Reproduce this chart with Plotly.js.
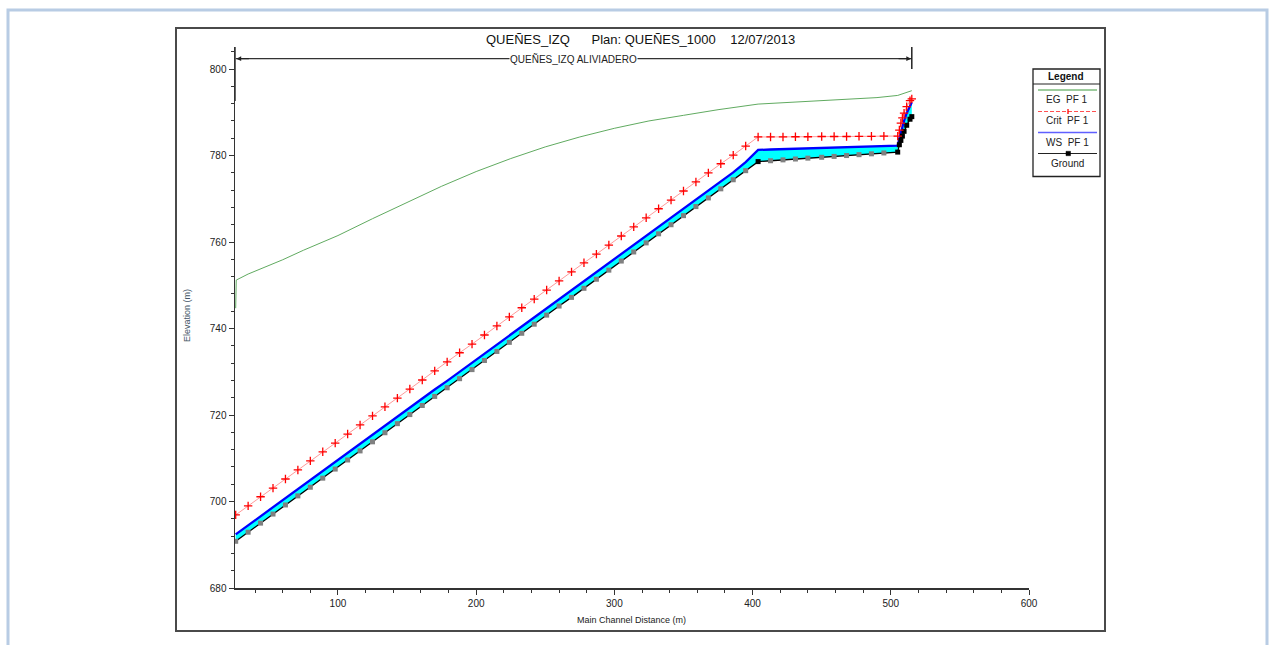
<!DOCTYPE html>
<html>
<head>
<meta charset="utf-8">
<script src="https://cdn.plot.ly/plotly-3.0.1.min.js"></script>
<style>
  html, body { margin: 0; padding: 0; background: #ffffff; }
  #chart { width: 1275px; height: 645px; }
</style>
</head>
<body>
<div id="chart"></div>
<script>
// ---------------- DATA ----------------
const stations = [26,35,44,53,62,71,80,89,98,107,116,125,134,143,152,161,170,179,188,197,206,215,224,233,242,251,260,269,278,287,296,305,314,323,332,341,350,359,368,377,386,395,404,
  413,422,431,440,450,459,468,477,486,495,505,
  506.2,507.3,508.4,509.6,511.5,513.9,515.2];

const groundElev = [690.8,692.9,695.0,697.1,699.2,701.3,703.3,705.4,707.5,709.6,711.7,713.8,715.9,718.0,720.1,722.2,724.3,726.3,728.4,730.5,732.6,734.7,736.8,738.9,741.0,743.1,745.2,747.2,749.3,751.4,753.5,755.6,757.7,759.8,761.9,764.0,766.1,768.2,770.2,772.3,774.4,776.5,778.6,
  778.8,779.0,779.2,779.4,779.6,779.8,780.0,780.2,780.4,780.6,780.8,
  782.5,783.5,784.5,785.6,787.0,788.4,789.0];

const wsElev = [692.4,694.5,696.6,698.7,700.8,702.9,704.9,707.0,709.1,711.2,713.3,715.4,717.5,719.6,721.7,723.8,725.9,727.9,730.0,732.1,734.2,736.3,738.4,740.5,742.6,744.7,746.8,748.8,750.9,753.0,755.1,757.2,759.3,761.4,763.5,765.6,767.7,769.8,771.8,773.9,776.1,778.5,781.3,
  781.4,781.5,781.6,781.7,781.8,781.9,782.0,782.1,782.2,782.25,782.3,
  784.0,785.5,786.8,788.0,789.8,791.6,792.3];

const critElev = [696.9,699.0,701.1,703.1,705.2,707.3,709.4,711.5,713.5,715.6,717.7,719.8,721.9,723.9,726.0,728.1,730.2,732.3,734.4,736.4,738.5,740.6,742.7,744.8,746.8,748.9,751.0,753.1,755.2,757.2,759.3,761.4,763.5,765.6,767.7,769.7,771.8,773.9,776.0,778.1,780.1,782.2,784.3,
  784.3,784.3,784.35,784.35,784.4,784.4,784.4,784.45,784.45,784.5,784.5,
  785.9,787.5,788.7,789.8,791.3,792.7,793.1];

const egStations = [26,26.4,35,50,60,75,100,125,150,175,200,225,250,275,300,325,350,375,404,430,460,490,505,515.2];
const egElev     = [744.7,751.2,752.6,754.5,755.9,758.1,761.5,765.4,769.2,772.9,776.3,779.3,782.0,784.3,786.3,788.0,789.3,790.6,791.9,792.4,792.9,793.4,793.9,795.0];

// cross sections surveyed (drawn black); others are interpolated (grey)
const realSections = [404,505,506.2,507.3,508.4,509.6,511.5,513.9,515.2];

const reachName = "QUEÑES_IZQ ALIVIADERO";
const reachStart = 26, reachEnd = 515.2;
const chartTitle = "QUEÑES_IZQ\u00a0\u00a0\u00a0\u00a0\u00a0\u00a0Plan: QUEÑES_1000\u00a0\u00a0\u00a0\u00a012/07/2013";
const legendNames = ["EG  PF 1", "Crit  PF 1", "WS  PF 1", "Ground"];

// ---------------- STYLE / LAYOUT ----------------
const FONT = "Liberation Sans, Arial, sans-serif";
const W = 1275, H = 645;
const L = 235, R = 1029, T = 47, B = 588;
const px = p => (p - L) / (R - L);
const py = p => (B - p) / (B - T);

const groundColors = stations.map(s => realSections.includes(s) ? '#000000' : '#808080');

const traces = [
  { x: stations, y: groundElev, mode: 'lines', line: {width: 0, color: 'rgba(0,0,0,0)'}, hoverinfo: 'skip', showlegend: false },
  { x: stations, y: wsElev, mode: 'lines', fill: 'tonexty', fillcolor: '#00ffff',
    line: {color: '#0000ff', width: 2.3}, name: legendNames[2], showlegend: false },
  { x: stations, y: groundElev, mode: 'lines+markers', line: {color: '#000000', width: 1.3},
    marker: {symbol: 'square', size: 5, color: groundColors}, name: legendNames[3], showlegend: false },
  { x: stations, y: critElev, mode: 'lines+markers', line: {color: '#ff9a9a', width: 1},
    marker: {symbol: 'cross-thin', size: 6, line: {color: '#ff0000', width: 1.3}}, name: legendNames[1], showlegend: false },
  { x: egStations, y: egElev, mode: 'lines', line: {color: '#4ea04e', width: 0.9}, name: legendNames[0], showlegend: false }
];

const reachY = 802.4;

const shapes = [
  // light outer page border
  {type: 'rect', xref: 'paper', yref: 'paper', x0: px(8), x1: px(1267), y0: py(660), y1: py(10),
   line: {color: '#b8cce4', width: 3}, layer: 'below'},
  // chart window frame
  {type: 'rect', xref: 'paper', yref: 'paper', x0: px(176), x1: px(1105), y0: py(631), y1: py(28),
   line: {color: '#4a4a4a', width: 2}, layer: 'below'},
  // reach line
  {type: 'line', xref: 'x', yref: 'y', x0: reachStart, x1: reachEnd, y0: reachY, y1: reachY,
   line: {color: '#333333', width: 1.2}},
  {type: 'line', xref: 'x', yref: 'paper', x0: reachEnd, x1: reachEnd, y0: py(69), y1: py(47),
   line: {color: '#222222', width: 1.5}},
  // y-axis extension to top
  {type: 'line', xref: 'paper', yref: 'paper', x0: 0, x1: 0, y0: 0.9, y1: 1,
   line: {color: '#333333', width: 1.5}},
  // legend box
  {type: 'rect', xref: 'paper', yref: 'paper', x0: px(1033), x1: px(1100), y0: py(176.5), y1: py(69),
   line: {color: '#222222', width: 1.3}, fillcolor: '#ffffff'},
  {type: 'line', xref: 'paper', yref: 'paper', x0: px(1033), x1: px(1100), y0: py(84), y1: py(84),
   line: {color: '#222222', width: 1}},
  {type: 'line', xref: 'paper', yref: 'paper', x0: px(1038), x1: px(1097), y0: py(90), y1: py(90),
   line: {color: '#3c9a3c', width: 1}},
  {type: 'line', xref: 'paper', yref: 'paper', x0: px(1038), x1: px(1097), y0: py(111.5), y1: py(111.5),
   line: {color: '#ff5050', width: 1, dash: '4px,2px'}},
  {type: 'line', xref: 'paper', yref: 'paper', x0: px(1068), x1: px(1068), y0: py(114), y1: py(109),
   line: {color: '#ff0000', width: 1.3}},
  {type: 'line', xref: 'paper', yref: 'paper', x0: px(1038), x1: px(1097), y0: py(132.5), y1: py(132.5),
   line: {color: '#6060ff', width: 1.3}},
  {type: 'line', xref: 'paper', yref: 'paper', x0: px(1038), x1: px(1097), y0: py(153.5), y1: py(153.5),
   line: {color: '#222222', width: 1}},
  {type: 'rect', xref: 'paper', yref: 'paper', x0: px(1066), x1: px(1070.5), y0: py(155.7), y1: py(151.3),
   line: {color: '#000000', width: 0.5}, fillcolor: '#000000'}
];

const annFont = {family: FONT, size: 10, color: '#222222'};
const annotations = [
  {xref: 'paper', yref: 'paper', x: px(640), y: py(39.5), text: chartTitle, showarrow: false,
   xanchor: 'center', yanchor: 'middle', font: {family: FONT, size: 13, color: '#111111'}},
  {xref: 'x', yref: 'y', x: (reachStart + reachEnd) / 2, y: reachY, text: reachName, showarrow: false,
   xanchor: 'center', yanchor: 'middle', bgcolor: '#ffffff', borderpad: 0, font: {family: FONT, size: 10, color: '#222222'}},
  // arrow heads
  {xref: 'x', yref: 'y', x: reachStart + 0.5, y: reachY, ax: 14, ay: 0, text: '', showarrow: true,
   arrowhead: 2, arrowsize: 0.8, arrowwidth: 1.2, arrowcolor: '#222222'},
  {xref: 'x', yref: 'y', x: reachEnd - 0.5, y: reachY, ax: -14, ay: 0, text: '', showarrow: true,
   arrowhead: 2, arrowsize: 0.8, arrowwidth: 1.2, arrowcolor: '#222222'},
  // axis titles
  {xref: 'paper', yref: 'paper', x: px(187), y: py(316), text: 'Elevation (m)', textangle: -90, showarrow: false,
   xanchor: 'center', yanchor: 'middle', font: {family: FONT, size: 9, color: '#445566'}},
  {xref: 'paper', yref: 'paper', x: px(631), y: py(620), text: 'Main Channel Distance (m)', showarrow: false,
   xanchor: 'center', yanchor: 'middle', font: {family: FONT, size: 9, color: '#222222'}},
  // legend texts
  {xref: 'paper', yref: 'paper', x: px(1066), y: py(76), text: '<b>Legend</b>', showarrow: false,
   xanchor: 'center', yanchor: 'middle', font: {family: FONT, size: 10, color: '#111111'}},
  {xref: 'paper', yref: 'paper', x: px(1067), y: py(99.5), text: legendNames[0].replace(/ /g, '\u00a0'), showarrow: false,
   xanchor: 'center', yanchor: 'middle', font: annFont},
  {xref: 'paper', yref: 'paper', x: px(1067), y: py(121), text: legendNames[1].replace(/ /g, '\u00a0'), showarrow: false,
   xanchor: 'center', yanchor: 'middle', font: annFont},
  {xref: 'paper', yref: 'paper', x: px(1067), y: py(142), text: legendNames[2].replace(/ /g, '\u00a0'), showarrow: false,
   xanchor: 'center', yanchor: 'middle', font: annFont},
  {xref: 'paper', yref: 'paper', x: px(1067), y: py(163), text: legendNames[3], showarrow: false,
   xanchor: 'center', yanchor: 'middle', font: annFont}
];

const layout = {
  width: W, height: H,
  margin: {l: L, r: W - R, t: T, b: H - B, pad: 0},
  paper_bgcolor: '#ffffff', plot_bgcolor: '#ffffff',
  showlegend: false,
  font: {family: FONT, size: 10, color: '#222222'},
  xaxis: {
    range: [25.5, 600], dtick: 100, tick0: 0, showgrid: false, zeroline: false,
    showline: true, linecolor: '#333333', linewidth: 1.5,
    ticks: 'outside', ticklen: 5, tickwidth: 1, tickcolor: '#333333',
    minor: {dtick: 20, ticks: 'outside', ticklen: 3, tickcolor: '#333333', tickwidth: 1, showgrid: false},
    tickfont: {family: FONT, size: 10, color: '#222222'}
  },
  yaxis: {
    range: [680, 805.1], dtick: 20, tick0: 0, showgrid: false, zeroline: false,
    showline: true, linecolor: '#333333', linewidth: 1.5,
    ticks: 'outside', ticklen: 5, tickwidth: 1, tickcolor: '#333333',
    minor: {dtick: 4, ticks: 'outside', ticklen: 3, tickcolor: '#333333', tickwidth: 1, showgrid: false},
    tickfont: {family: FONT, size: 10, color: '#222222'}
  },
  shapes: shapes,
  annotations: annotations
};

Plotly.newPlot('chart', traces, layout, {displayModeBar: false, staticPlot: true});
</script>
</body>
</html>
